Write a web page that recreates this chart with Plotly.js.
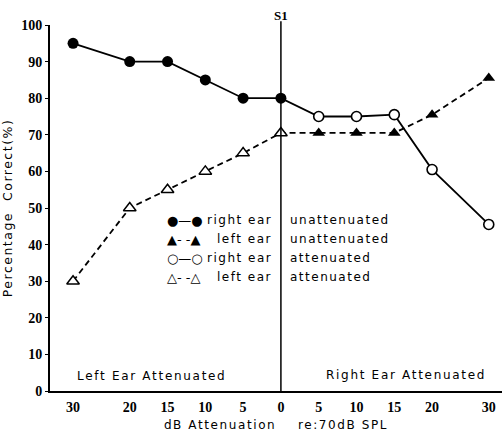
<!DOCTYPE html>
<html><head><meta charset="utf-8">
<script src="https://cdn.plot.ly/plotly-3.0.1.min.js"></script>
<style>body{margin:0;background:#fff}#c{width:502px;height:432px}</style>
</head><body><div id="c"></div>
<script>
// Tick labels (dB attenuation) for each side of S1
const leftTickDb = [30, 20, 15, 10, 5];
const centerTickDb = [0];
const rightTickDb = [5, 10, 15, 20, 30];

// Right ear unattenuated (left side of the axis)
const rightUnattDb = [30, 20, 15, 10, 5, 0];
const rightUnattVal = [95, 90, 90, 85, 80, 80];
// Right ear attenuated (right side)
const rightAttDb = [5, 10, 15, 20, 30];
const rightAttVal = [75, 75, 75.5, 60.5, 45.5];
// Left ear attenuated (left side)
const leftAttDb = [30, 20, 15, 10, 5, 0];
const leftAttVal = [30, 50, 55, 60, 65, 70.5];
// Left ear unattenuated (right side)
const leftUnattDb = [5, 10, 15, 20, 30];
const leftUnattVal = [70.5, 70.5, 70.5, 75.5, 85.5];

const legendSymbols = ['●—●', '▲- -▲', '○—○', '△- -△'];
const legendEar = ['right ear', 'left ear', 'right ear', 'left ear'];
const legendState = ['unattenuated', 'unattenuated', 'attenuated', 'attenuated'];

// axis scale of the original figure: 5 dB steps are equal, 20->30 is 1.5 steps
function pos(db, side) {
  const u = db <= 20 ? db / 5 : 4 + (db - 20) * 0.15;
  return side * u;
}
const L = a => a.map(d => pos(d, -1));
const R = a => a.map(d => pos(d, 1));

const tickvals = L(leftTickDb).concat(L(centerTickDb), R(rightTickDb));
const ticktext = leftTickDb.concat(centerTickDb, rightTickDb).map(String);

const lineBlack = {color: '#000', width: 1.8};
const dashBlack = {color: '#000', width: 1.8, dash: '6px,4px'};

const traces = [
  {x: L(rightUnattDb).concat(R(rightAttDb)), y: rightUnattVal.concat(rightAttVal),
   mode: 'lines', line: lineBlack, hoverinfo: 'skip'},
  {x: L(leftAttDb).concat(R(leftUnattDb)), y: leftAttVal.concat(leftUnattVal),
   mode: 'lines', line: dashBlack, hoverinfo: 'skip'},
  {x: L(rightUnattDb), y: rightUnattVal, mode: 'markers', name: 'right ear unattenuated',
   marker: {symbol: 'circle', size: 11, color: '#000'}},
  {x: R(rightAttDb), y: rightAttVal, mode: 'markers', name: 'right ear attenuated',
   marker: {symbol: 'circle', size: 10, color: '#fff', line: {color: '#000', width: 1.6}}},
  {x: L(leftAttDb), y: leftAttVal, mode: 'markers', name: 'left ear attenuated',
   marker: {symbol: 'triangle-up', size: 11, color: '#fff', line: {color: '#000', width: 1.5}}},
  {x: R(leftUnattDb), y: leftUnattVal, mode: 'markers', name: 'left ear unattenuated',
   marker: {symbol: 'triangle-up', size: 11, color: '#000'}}
];

const sp = (t, s) => '<span style="letter-spacing:' + s + 'px">' + t + '</span>';
const txtFont = {family: 'DejaVu Sans', size: 12, color: '#000'};
const annotations = [
  {x: 0, y: 1, xref: 'x', yref: 'paper', text: 'S1', showarrow: false, yanchor: 'bottom', yshift: 0,
   font: {family: 'Liberation Sans Narrow', size: 13, color: '#000', weight: 'bold'}},
  {x: 0.0553, y: 0.041, xref: 'paper', yref: 'paper', text: sp('Left Ear Attenuated', 1.7), xanchor: 'left', yanchor: 'middle',
   showarrow: false, font: txtFont},
  {x: 0.969, y: 0.044, xref: 'paper', yref: 'paper', text: sp('Right Ear Attenuated', 1.7), xanchor: 'right', yanchor: 'middle',
   showarrow: false, font: txtFont}
];
const rowsY = [0.467, 0.415, 0.363, 0.311];
for (let i = 0; i < 4; i++) {
  annotations.push({x: 0.2544, y: rowsY[i], xref: 'paper', yref: 'paper', text: legendSymbols[i],
    xanchor: 'left', yanchor: 'middle', showarrow: false, font: {family: 'DejaVu Sans', size: 13, color: '#000'}});
  annotations.push({x: 0.495, y: rowsY[i], xref: 'paper', yref: 'paper', text: sp(legendEar[i], 1.5),
    xanchor: 'right', yanchor: 'middle', showarrow: false, font: txtFont});
  annotations.push({x: 0.5265, y: rowsY[i], xref: 'paper', yref: 'paper', text: sp(legendState[i], 1.5),
    xanchor: 'left', yanchor: 'middle', showarrow: false, font: txtFont});
}

const layout = {
  width: 502, height: 432,
  margin: {l: 50, r: 0, t: 25, b: 41},
  paper_bgcolor: '#fff', plot_bgcolor: '#fff',
  showlegend: false,
  font: {family: 'DejaVu Sans', color: '#000'},
  xaxis: {
    range: [-6.11, 5.85], tickmode: 'array', tickvals: tickvals, ticktext: ticktext,
    showgrid: false, zeroline: false, showline: true, linecolor: '#000', linewidth: 2,
    ticks: '', ticklabelstandoff: 2,
    tickfont: {family: 'Liberation Sans Narrow', size: 14, weight: 'bold', color: '#000'},
    title: {text: sp('dB Attenuation    re:70dB SPL', 1.6), standoff: 9, font: {family: 'DejaVu Sans', size: 12, color: '#000'}}
  },
  yaxis: {
    range: [0, 100], tickvals: [0,10,20,30,40,50,60,70,80,90,100],
    showgrid: false, zeroline: false, showline: true, linecolor: '#000', linewidth: 2,
    ticks: 'outside', ticklen: 3, tickcolor: '#000',
    tickfont: {family: 'Liberation Sans Narrow', size: 14, weight: 'bold', color: '#000'},
    title: {text: sp('Percentage  Correct(%)', 1.5), standoff: 6, font: {family: 'DejaVu Sans', size: 12.5, color: '#000'}}
  },
  shapes: [
    {type: 'line', xref: 'x', yref: 'paper', x0: 0, x1: 0, y0: 0, y1: 1.01, line: {color: '#000', width: 1.5}}
  ],
  annotations: annotations
};
Plotly.newPlot('c', traces, layout, {displayModeBar: false, staticPlot: true});
</script></body></html>
